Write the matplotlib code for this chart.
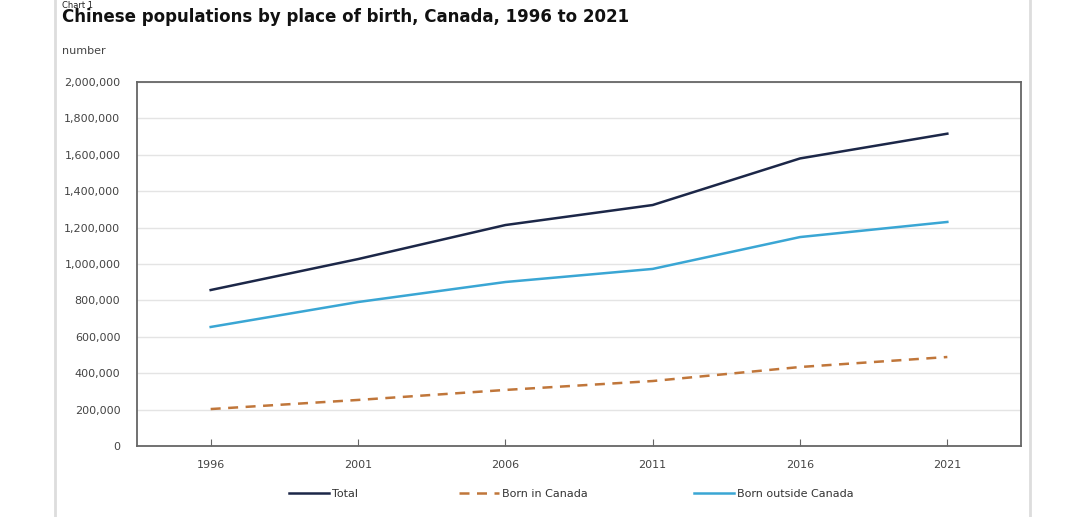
import matplotlib
matplotlib.use('Agg')
import matplotlib.pyplot as plt
from matplotlib.lines import Line2D
from matplotlib.ticker import FuncFormatter

years = ['1996', '2001', '2006', '2011', '2016', '2021']
total = [857000, 1027000, 1214000, 1324000, 1580000, 1716000]
born_canada = [203000, 253000, 308000, 357000, 434000, 489000]
born_outside = [654000, 791000, 901000, 973000, 1148000, 1231000]

plt.rcParams['font.family'] = ['DejaVu Sans']

fig = plt.figure(figsize=(10.79, 5.17), dpi=100)
ax = fig.add_axes([137/1079, 1 - 446/517, (1021-137)/1079, (446-82)/517])

x = list(range(len(years)))
l1, = ax.plot(x, total, color='#1c2748', lw=1.8, label='Total')
l2, = ax.plot(x, born_canada, color='#c0763a', lw=1.8, ls=(0, (4, 3)), label='Born in Canada')
l3, = ax.plot(x, born_outside, color='#3aa6d4', lw=1.8, label='Born outside Canada')

ax.set_xlim(-0.5, 5.5)
ax.set_ylim(0, 2000000)
ax.set_yticks(range(0, 2000001, 200000))
ax.yaxis.set_major_formatter(FuncFormatter(lambda v, p: '{:,.0f}'.format(v)))
ax.set_xticks(x)
ax.set_xticklabels(years)
ax.grid(axis='y', color='#e4e4e4', lw=1)
ax.set_axisbelow(True)
for s in ax.spines.values():
    s.set_color('#666666')
    s.set_linewidth(1.3)
ax.tick_params(axis='y', length=0, pad=12, labelsize=8, labelcolor='#444444')
ax.tick_params(axis='x', direction='in', length=5, color='#666666', pad=10,
               labelsize=8, labelcolor='#444444')

# panel borders
fig.add_artist(Line2D([55/1079, 55/1079], [0, 1], color='#dddddd', lw=2))
fig.add_artist(Line2D([1030/1079, 1030/1079], [0, 1], color='#dddddd', lw=2))

fig.text(62/1079, 1 - 1/517, 'Chart 1', fontsize=6, color='#222222', va='top')
fig.text(62/1079, 1 - 17/517, 'Chinese populations by place of birth, Canada, 1996 to 2021',
         fontsize=12, fontweight='bold', color='#111111', va='center')
fig.text(62/1079, 1 - 51/517, 'number', fontsize=8, color='#444444', va='center')

# legend entries placed individually, as in the reference
for line, lx in [(l1, 292), (l2, 462), (l3, 697)]:
    leg = fig.legend(handles=[line], loc='center left',
                     bbox_to_anchor=(lx/1079 - 0.0075, 1 - 494/517), frameon=False,
                     fontsize=8, handlelength=3.6, handletextpad=0.2, borderpad=0)
    for t in leg.get_texts():
        t.set_color('#333333')

fig.savefig('out.png', dpi=100)
